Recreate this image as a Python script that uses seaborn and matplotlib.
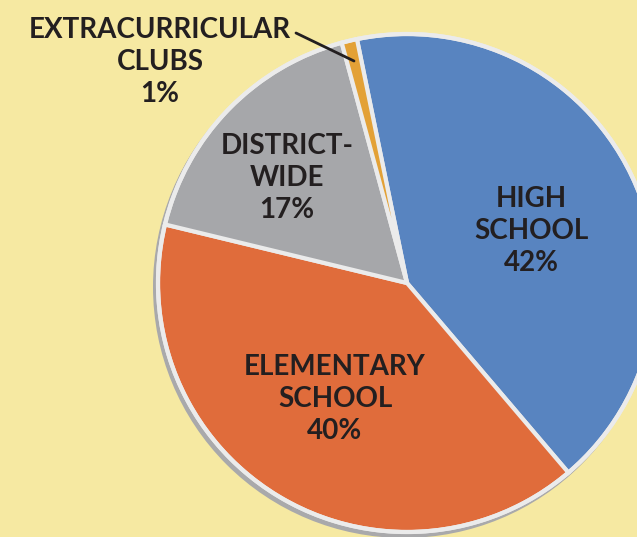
import matplotlib
matplotlib.use("Agg")
import matplotlib.pyplot as plt
from matplotlib.patches import Circle
import seaborn as sns

# Budget share by program area
categories = ["HIGH\nSCHOOL", "ELEMENTARY\nSCHOOL", "DISTRICT-\nWIDE", "EXTRACURRICULAR\nCLUBS"]
shares = [42, 40, 17, 1]
colors = ["#5884c0", "#e06c3b", "#a6a7aa", "#e3a136"]

BG = "#f6e9a2"
INK = "#231f20"

sns.set_theme(style="white")
plt.rcParams["font.family"] = ["Lato", "DejaVu Sans"]

fig = plt.figure(figsize=(6.37, 5.37), dpi=100, facecolor=BG)
ax = fig.add_axes([0, 0, 1, 1])
ax.set_facecolor(BG)

cx, cy, r = 407, 537 - 283, 249

# drop shadow behind the pie
ax.add_patch(Circle((cx - 3, cy - 4), r + 2, facecolor="#a9a9ab", edgecolor="none", zorder=0))

wedges, _ = ax.pie(
    shares, colors=colors, startangle=101.6, counterclock=False,
    center=(cx, cy), radius=r,
    wedgeprops=dict(edgecolor="#ebebeb", linewidth=3, joinstyle="miter"),
    frame=True,
)
ax.set_xlim(0, 637)
ax.set_ylim(0, 537)
ax.set_aspect("equal")
ax.axis("off")

# light rim around the pie
ax.add_patch(Circle((cx, cy), r, facecolor="none", edgecolor="#ebebeb", linewidth=3, zorder=5))

label_pos = [(531, 231), (335, 399), (287, 178), (160, 62)]
for name, val, (x, y) in zip(categories, shares, label_pos):
    ax.text(x, 537 - y, f"{name}\n{val}%", ha="center", va="center",
            fontsize=20, fontweight="bold", color=INK, linespacing=1.27, zorder=6)

# leader line for the smallest slice
ax.plot([296, 354], [537 - 33, 537 - 61], color=INK, linewidth=2, zorder=6,
        solid_capstyle="round")

fig.savefig("out.png", dpi=100, facecolor=BG)
